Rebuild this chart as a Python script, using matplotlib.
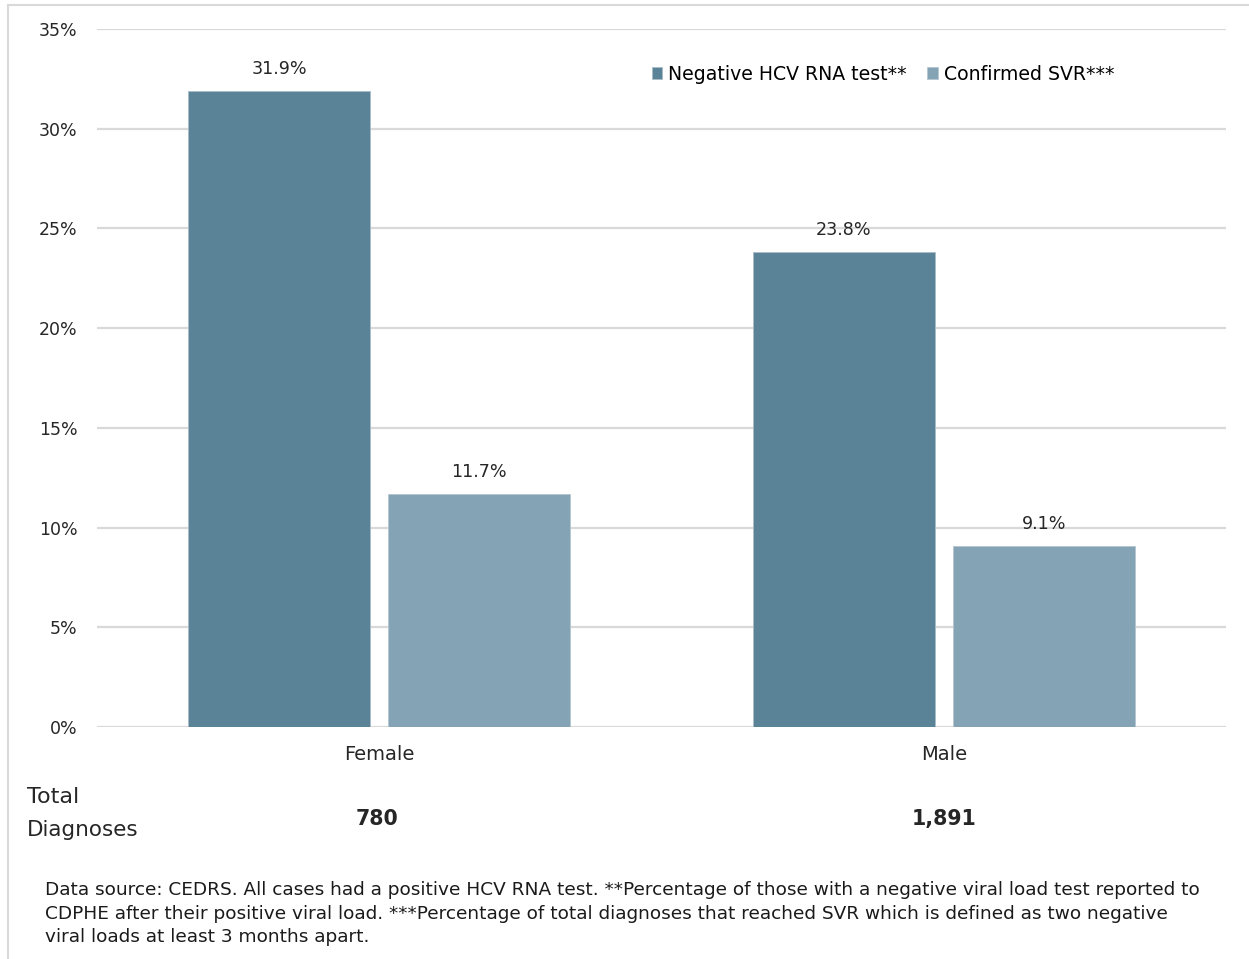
import numpy as np
import matplotlib.pyplot as plt
from matplotlib.lines import Line2D

# HCV testing outcomes by sex
groups = ['Female', 'Male']
negative_rna = [31.9, 23.8]
confirmed_svr = [11.7, 9.1]
totals = ['780', '1,891']
series_names = ['Negative HCV RNA test**', 'Confirmed SVR***']
yticks = [0, 5, 10, 15, 20, 25, 30, 35]

dark = '#5B8397'
light = '#84A3B4'
grid = '#D9D9D9'
W, H = 1249, 959

plt.rcParams['font.family'] = ['DejaVu Sans']

fig = plt.figure(figsize=(W / 100, H / 100), dpi=100)
ax = fig.add_axes([97 / W, 1 - 727 / H, (1226 - 97) / W, (727 - 29) / H])

x = np.arange(len(groups))
width = 0.322
off = 0.177
b1 = ax.bar(x - off, negative_rna, width, color=dark, edgecolor='#A9BCC7', linewidth=0.6,
            label=series_names[0], zorder=3)
b2 = ax.bar(x + off, confirmed_svr, width, color=light, edgecolor='#B5C6D0', linewidth=0.6,
            label=series_names[1], zorder=3)

for bars, vals in [(b1, negative_rna), (b2, confirmed_svr)]:
    for r, v in zip(bars, vals):
        ax.text(r.get_x() + r.get_width() / 2, v + 0.65, f'{v}%', ha='center', va='bottom',
                fontsize=12.6, color='#262626')

ax.set_xlim(-0.5, 1.5)
ax.set_ylim(0, 35)
ax.set_yticks(yticks)
ax.set_yticklabels([f'{t}%' for t in yticks], fontsize=12.5, color='#262626')
ax.set_xticks(x)
ax.set_xticklabels(groups, fontsize=14, color='#262626')
ax.tick_params(axis='y', length=0, pad=14)
ax.tick_params(axis='x', length=0, pad=13)
ax.yaxis.grid(True, color=grid, linewidth=1.6, zorder=0)
for s in ax.spines.values():
    s.set_visible(False)

ax.legend(loc='center left', bbox_to_anchor=((652 - 97) / 1129, (727 - 74) / 698), ncol=2,
          frameon=False, fontsize=13.6, handlelength=0.55, handleheight=0.55, handletextpad=0.3,
          columnspacing=1.1, borderaxespad=0, borderpad=0)

# totals row under the axis
fig.text(27 / W, 1 - 797 / H, 'Total', fontsize=16, va='center', ha='left', color='#262626')
fig.text(27 / W, 1 - 830 / H, 'Diagnoses', fontsize=15.5, va='center', ha='left', color='#262626')
for cx, t in zip([377, 944], totals):
    fig.text(cx / W, 1 - 819 / H, t, fontsize=14.8, fontweight='bold', ha='center', va='center',
             color='#262626')

note = ('Data source: CEDRS. All cases had a positive HCV RNA test. **Percentage of those with a negative viral load test reported to\n'
        'CDPHE after their positive viral load. ***Percentage of total diagnoses that reached SVR which is defined as two negative\n'
        'viral loads at least 3 months apart.')
fig.text(45 / W, 1 - 881 / H, note, fontsize=13.3, va='top', ha='left', linespacing=1.4,
         color='#1a1a1a')

# light frame along top and left edges
fig.add_artist(Line2D([8 / W, 8 / W], [0, 1 - 5 / H], color=grid, linewidth=1.5))
fig.add_artist(Line2D([8 / W, 1], [1 - 5 / H, 1 - 5 / H], color=grid, linewidth=1.5))

fig.savefig('out.png', dpi=100)
